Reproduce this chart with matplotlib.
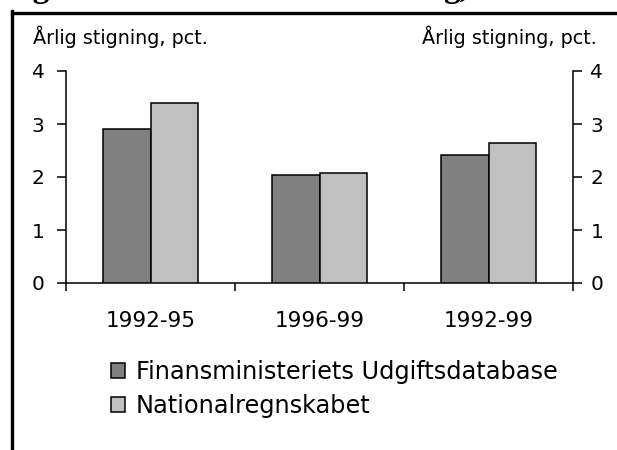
import matplotlib
matplotlib.use("Agg")
import matplotlib.pyplot as plt
from matplotlib.lines import Line2D
from matplotlib.ticker import FixedLocator
import numpy as np

categories = ["1992-95", "1996-99", "1992-99"]
series_names = ["Finansministeriets Udgiftsdatabase", "Nationalregnskabet"]
udgiftsdatabase = [2.90, 2.03, 2.41]
nationalregnskab = [3.39, 2.07, 2.64]
y_ticks = [0, 1, 2, 3, 4]
unit_label = "Årlig stigning, pct."

W, H = 617, 450
fig = plt.figure(figsize=(W / 100, H / 100), dpi=100)
fig.patch.set_facecolor("white")

ax = fig.add_axes([66 / W, 1 - 283 / H, (573 - 66) / W, (283 - 71) / H])
x = np.arange(len(categories))
bw = 0.284
b1 = ax.bar(x - bw / 2, udgiftsdatabase, bw, color="#808080", edgecolor="black", linewidth=1.1, zorder=3)
b2 = ax.bar(x + bw / 2, nationalregnskab, bw, color="#C0C0C0", edgecolor="black", linewidth=1.1, zorder=3)

ax.set_xlim(-0.5, len(categories) - 0.5)
ax.set_ylim(0, 4)
ax.set_yticks(y_ticks)
ax.set_xticks(x)
ax.set_xticklabels(categories, fontsize=15.5, family="DejaVu Sans")
ax.xaxis.set_minor_locator(FixedLocator(np.arange(-0.5, len(categories), 1.0)))
ax.tick_params(axis="x", which="major", length=0, pad=20)
ax.tick_params(axis="x", which="minor", length=6, width=1.1, direction="out")
ax.tick_params(axis="y", length=6.5, width=1.1, direction="out", pad=9, labelsize=14.5)
for lab in ax.get_yticklabels():
    lab.set_family("DejaVu Sans")
for s in ["top", "right"]:
    ax.spines[s].set_visible(False)
for s in ["left", "bottom"]:
    ax.spines[s].set_linewidth(1.1)

ax2 = ax.twinx()
ax2.set_ylim(0, 4)
ax2.set_yticks(y_ticks)
ax2.tick_params(axis="y", length=6.5, width=1.1, direction="out", pad=6, labelsize=14.5)
for lab in ax2.get_yticklabels():
    lab.set_family("DejaVu Sans")
for s in ["top", "left", "bottom"]:
    ax2.spines[s].set_visible(False)
ax2.spines["right"].set_linewidth(1.1)

fig.text(33 / W, 1 - 44 / H, unit_label, fontsize=13.8, ha="left", va="baseline", family="DejaVu Sans")
fig.text(597 / W, 1 - 44 / H, unit_label, fontsize=13.8, ha="right", va="baseline", family="DejaVu Sans")

leg = fig.legend([b1, b2], series_names, loc="upper left", bbox_to_anchor=(111 / W, 1 - 360 / H),
                 frameon=False, fontsize=17.3, handlelength=0.58, handleheight=0.58,
                 handletextpad=0.45, labelspacing=0.42, borderaxespad=0, borderpad=0)

# outer frame
fig.add_artist(Line2D([11.5 / W, 11.5 / W], [0, 1 - 11.3 / H], color="black", linewidth=2.4,
                      transform=fig.transFigure))
fig.add_artist(Line2D([11.5 / W, 1], [1 - 12.5 / H, 1 - 12.5 / H], color="black", linewidth=2.4,
                      transform=fig.transFigure))

# clipped title remnants at the top
fig.text(3 / W, 1 + 3 / H, "Fig", fontsize=24, fontweight="bold", family="Liberation Serif",
         ha="left", va="baseline")
fig.text(443 / W, 1 + 3 / H, "g,", fontsize=24, fontweight="bold", family="Liberation Serif",
         ha="left", va="baseline")

fig.savefig("out.png", dpi=100)
